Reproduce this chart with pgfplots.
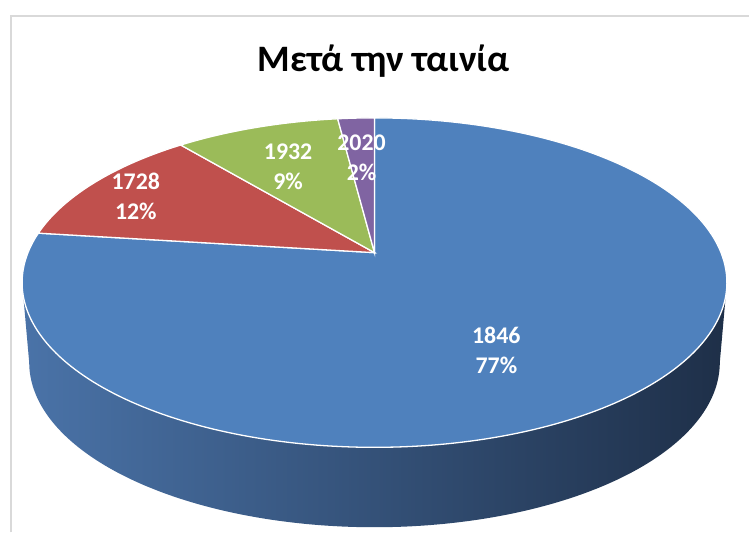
\documentclass[border=0pt]{standalone}
\usepackage{fontspec}
\setmainfont{Carlito}
\usepackage{pgfplots}
\pgfplotsset{compat=1.18}
\definecolor{cBlue}{HTML}{4F81BD}
\definecolor{cRed}{HTML}{C0504D}
\definecolor{cGreen}{HTML}{9BBB59}
\definecolor{cPurple}{HTML}{8064A2}
\definecolor{sideL}{HTML}{4A73A8}
\definecolor{sideM}{HTML}{2A4366}
\definecolor{sideR}{HTML}{1E2F48}
\definecolor{frameC}{HTML}{D9D9D9}
\begin{document}
\begin{tikzpicture}
% slice values (percent)
\def\vA{77}\def\vB{12}\def\vC{9}\def\vD{2}
\pgfmathsetmacro\tot{\vA+\vB+\vC+\vD}
\pgfmathsetmacro\aA{90-\vA/\tot*360}
\pgfmathsetmacro\aB{\aA+360-\vB/\tot*360}
\pgfmathsetmacro\aC{\aB-\vC/\tot*360}
\pgfmathsetmacro\aD{\aC-\vD/\tot*360}
\pgfmathsetmacro\aAp{\aA+360}
\begin{axis}[
  scale only axis, width=750bp, height=533bp,
  xmin=0, xmax=750, ymin=0, ymax=533,
  hide axis, clip=false,
  declare function={
    px(\t)=375+347*cos(\t)/(1+0.1818*sin(\t));
    py(\t)=280+159.5*sin(\t)/(1+0.1818*sin(\t));
  },
]
\path[fill=white] (axis cs:0,0) rectangle (axis cs:750,533);
\draw[frameC, line width=2bp] (axis cs:11,0) -- (axis cs:11,517) -- (axis cs:750,517);
% side of the pie
\addplot[draw=none, left color=sideL, middle color=sideM, right color=sideR,
  domain=0:319, samples=320, variable=\t]
  ({ \t<159.5 ? px(190.5+\t) : 375+(340/347)*(px(509.5-\t)-375) },
   { \t<159.5 ? py(190.5+\t) : py(509.5-\t)-80 }) -- cycle;
% top slices
\addplot[fill=cBlue, draw=white, line width=1.3bp, domain=\aA:90, samples=240]
  ({px(x)},{py(x)}) -- (axis cs:375,280) -- cycle;
\addplot[fill=cRed, draw=white, line width=1.3bp, domain=\aB:\aAp, samples=60]
  ({px(x)},{py(x)}) -- (axis cs:375,280) -- cycle;
\addplot[fill=cGreen, draw=white, line width=1.3bp, domain=\aC:\aB, samples=40]
  ({px(x)},{py(x)}) -- (axis cs:375,280) -- cycle;
\addplot[fill=cPurple, draw=white, line width=1.3bp, domain=\aD:\aC, samples=20]
  ({px(x)},{py(x)}) -- (axis cs:375,280) -- cycle;
% labels
\tikzset{lbl/.style={align=center, text=white, inner sep=0pt,
  font=\fontsize{24}{30}\selectfont\bfseries}}
\node[lbl] at (axis cs:497,182) {1846\\77\%};
\node[lbl] at (axis cs:136,336) {1728\\12\%};
\node[lbl] at (axis cs:288.5,366) {1932\\9\%};
\node[lbl] at (axis cs:362,375) {2020\\2\%};
% title
\node[anchor=base, inner sep=0pt, font=\fontsize{37.5}{44}\selectfont\bfseries]
  at (axis cs:384,461) {Μετά την ταινία};
\end{axis}
\end{tikzpicture}
\end{document}
